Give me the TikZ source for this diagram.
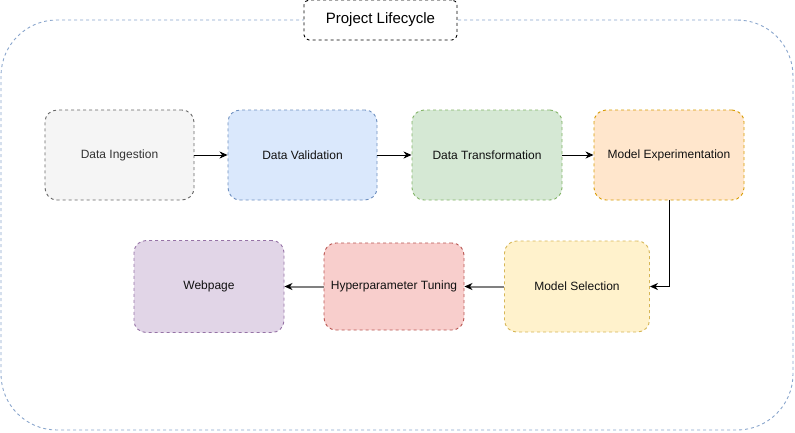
\documentclass[tikz,border=0pt]{standalone}
\usepackage{fontspec}
\setmainfont{Liberation Sans}
\usetikzlibrary{arrows.meta}
\definecolor{cIngF}{HTML}{F5F5F5}\definecolor{cIngD}{HTML}{666666}\definecolor{cIngT}{HTML}{333333}
\definecolor{cValF}{HTML}{DAE8FC}\definecolor{cValD}{HTML}{6C8EBF}
\definecolor{cTrF}{HTML}{D5E8D4}\definecolor{cTrD}{HTML}{82B366}
\definecolor{cExF}{HTML}{FFE6CC}\definecolor{cExD}{HTML}{D79B00}
\definecolor{cSeF}{HTML}{FFF2CC}\definecolor{cSeD}{HTML}{D6B656}
\definecolor{cHyF}{HTML}{F8CECC}\definecolor{cHyD}{HTML}{B85450}
\definecolor{cWeF}{HTML}{E1D5E7}\definecolor{cWeD}{HTML}{9673A6}
\definecolor{cTxt}{HTML}{111111}
\definecolor{cGrayLine}{HTML}{808080}
\tikzset{
  stagebox/.style={draw=#1, rectangle, rounded corners=12pt, line width=0.9pt,
    dash pattern=on 3pt off 3pt, font=\fontsize{12}{14}\selectfont, text=cTxt, inner sep=2pt},
  arr/.style={line width=1pt, draw=black, -{Stealth[length=8pt,width=7pt,inset=2.5pt]}},
  grayarr/.style={line width=2pt, draw=cGrayLine, -{Stealth[length=8pt,width=7pt,inset=2.5pt,color=black]}},
}
\begin{document}
\begin{tikzpicture}[x=1pt,y=-1pt]
\useasboundingbox (0,0) rectangle (795,432);
% container
\node[draw=cValD!80!white, line width=0.9pt, dash pattern=on 3pt off 3pt, rounded corners=56pt,
  minimum width=792pt, minimum height=410pt, inner sep=0pt] (lifecycle) at (397,225) {};
\node[draw=black, fill=white, line width=0.9pt, dash pattern=on 3pt off 3pt, rounded corners=5pt,
  minimum width=153pt, minimum height=40pt, inner sep=0pt, font=\fontsize{15}{18}\selectfont] (title) at (380.5,20) {Project Lifecycle};
% row 1
\node[stagebox=cIngD, fill=cIngF, text=cIngT, minimum width=149pt, minimum height=90pt] (ing) at (119.5,155) {Data Ingestion};
\node[stagebox=cValD, fill=cValF, minimum width=149pt, minimum height=90pt] (val) at (302.5,155) {Data Validation};
\node[stagebox=cTrD, fill=cTrF, minimum width=150pt, minimum height=90pt] (tra) at (487,155) {Data Transformation};
\node[stagebox=cExD, fill=cExF, minimum width=150pt, minimum height=90pt] (exp) at (669,155) {Model Experimentation};
% row 2
\node[stagebox=cSeD, fill=cSeF, minimum width=145pt, minimum height=91pt] (sel) at (577,286.5) {Model Selection};
\node[stagebox=cHyD, fill=cHyF, minimum width=140pt, minimum height=87pt] (hyp) at (394,286.5) {Hyperparameter Tuning};
\node[stagebox=cWeD, fill=cWeF, minimum width=150pt, minimum height=92pt] (web) at (209,286.5) {Webpage};
% connectors
\draw[arr] (ing) -- (val);
\draw[arr] (val) -- (tra);
\draw[arr] (tra) -- (exp);
\draw[arr] (exp.south) |- (sel.east);
\draw[grayarr] (sel) -- (hyp);
\draw[grayarr] (hyp) -- (web);
\end{tikzpicture}
\end{document}
